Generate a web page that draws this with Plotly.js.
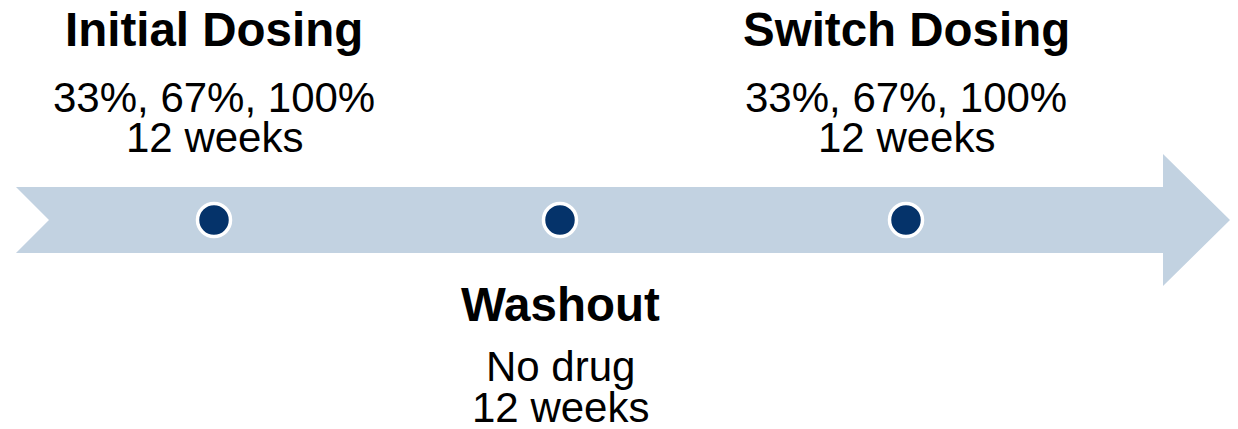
<!DOCTYPE html>
<html>
<head>
<meta charset="utf-8">
<script src="https://cdn.plot.ly/plotly-3.0.1.min.js"></script>
<style>
  html, body { margin: 0; padding: 0; background: #ffffff; }
  #chart { width: 1238px; height: 429px; }
</style>
</head>
<body>
<div id="chart"></div>
<script>
// ---- data ----
const phases = ["Initial Dosing", "Washout", "Switch Dosing"];
const doseLines = ["33%, 67%, 100%", "No drug", "33%, 67%, 100%"];
const durationLines = ["12 weeks", "12 weeks", "12 weeks"];
const labelSide = ["above", "below", "above"];

// ---- styles / layout constants (pixels) ----
const W = 1238, H = 429;
const lineY = 220;
const arrowColor = "#C2D2E1";
const dotColor = "#05336A";
const font = "Liberation Sans, Arial, sans-serif";

// arrow geometry in pixel space
const ax0 = 16, notch = 33, bodyTop = 187, bodyBot = 253, headX = 1163, headTop = 154, headBot = 286, tipX = 1230;
const px = v => (v / W).toFixed(5);
const arrowPath =
  `M${px(ax0)},${bodyTop} L${px(headX)},${bodyTop} L${px(headX)},${headTop} L${px(tipX)},${lineY} ` +
  `L${px(headX)},${headBot} L${px(headX)},${bodyBot} L${px(ax0)},${bodyBot} L${px(ax0 + notch)},${lineY} Z`;

const dots = {
  type: "scatter",
  mode: "markers",
  x: phases,
  y: phases.map(() => lineY),
  marker: { size: 33, color: dotColor, line: { color: "#FFFFFF", width: 3.5 } },
  hoverinfo: "skip",
  showlegend: false
};

const offsets = {
  above: { title: 29, dose: 97, dur: 137 },
  below: { title: 304, dose: 366, dur: 407 }
};

const annotations = [];
phases.forEach((p, i) => {
  const o = offsets[labelSide[i]];
  annotations.push({ x: p, y: o.title, xref: "x", yref: "y", text: "<b>" + p + "</b>",
    showarrow: false, xanchor: "center", yanchor: "middle",
    font: { family: font, size: 47.5, color: "#000000" } });
  annotations.push({ x: p, y: o.dose, xref: "x", yref: "y", text: doseLines[i],
    showarrow: false, xanchor: "center", yanchor: "middle",
    font: { family: font, size: 42, color: "#000000" } });
  annotations.push({ x: p, y: o.dur, xref: "x", yref: "y", text: durationLines[i],
    showarrow: false, xanchor: "center", yanchor: "middle",
    font: { family: font, size: 42, color: "#000000" } });
});

// map category index 0..2 to pixel centres 214, 559, 906
const c0 = 214, step = 346;
const xr = [(0 - c0) / step, (W - c0) / step];

const layout = {
  width: W, height: H,
  margin: { l: 0, r: 0, t: 0, b: 0, pad: 0 },
  paper_bgcolor: "#ffffff",
  plot_bgcolor: "#ffffff",
  xaxis: { type: "category", range: xr, visible: false, fixedrange: true },
  yaxis: { range: [H, 0], visible: false, fixedrange: true },
  shapes: [{
    type: "path", xref: "paper", yref: "y", path: arrowPath,
    fillcolor: arrowColor, line: { width: 0 }, layer: "below"
  }],
  annotations: annotations,
  showlegend: false
};

Plotly.newPlot("chart", [dots], layout, { displayModeBar: false, staticPlot: true });
</script>
</body>
</html>
